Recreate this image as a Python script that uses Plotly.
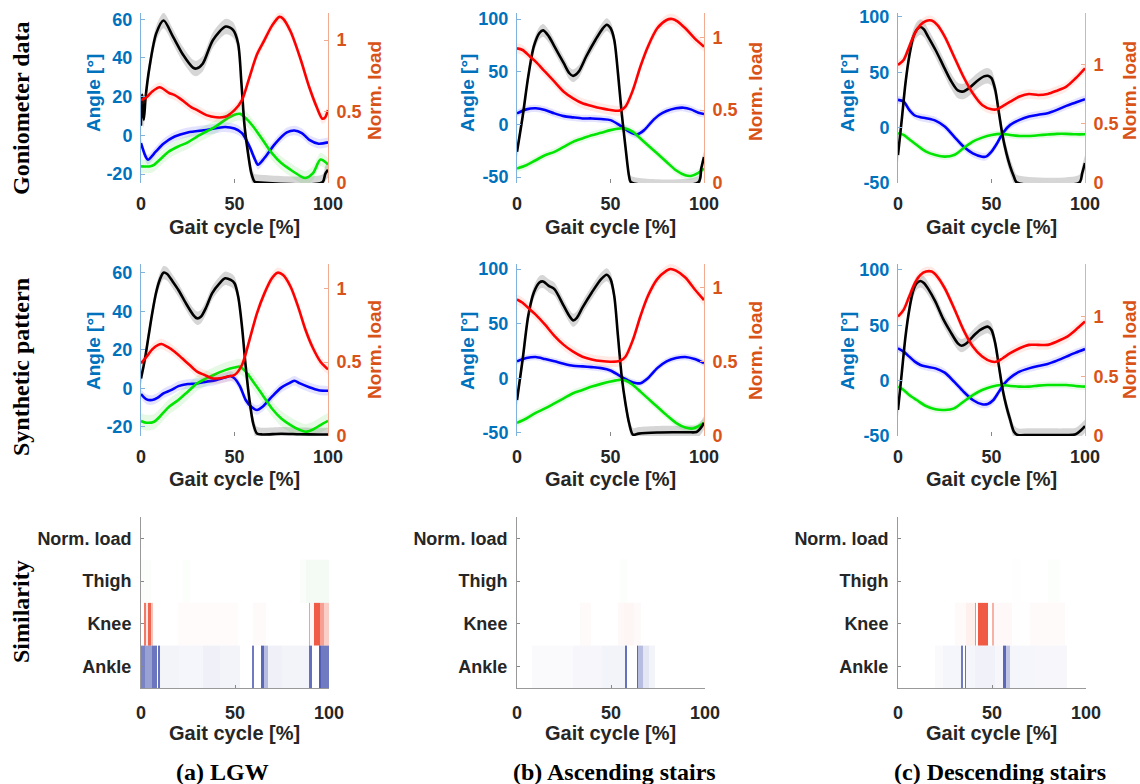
import plotly.graph_objects as go

# ---------------- data ----------------
gait_ticks = [0, 50, 100]

# Goniometer data – LGW
gon_lgw_knee = [(0,5),(0.6,21),(1.5,8),(2.5,20),(4.6,35.6),(8.2,52.8),(12.1,59.3),(17.1,51),(22.5,41.6),(27.8,35),(29.6,34.5),(33,37),(38.5,49.3),(45.3,56.2),(49.2,54.5),(51.9,47.6),(53.7,27),(55.4,4.6),(57.2,-9),(59,-19.5),(60.8,-24),(62,-24.2),(97,-24.2),(98.5,-20),(100,-17.8)]
gon_lgw_ankle = [(0,-4),(2.5,-11),(3.7,-12.6),(8,-8.3),(12,-4.3),(18,-0.6),(25,1.5),(35,2.8),(45,4.3),(50,3.5),(54,1.2),(58,-5.7),(61,-12.6),(62.5,-15.2),(66,-11.7),(72,-4),(78,1.5),(82,2.5),(86,1.2),(90,-2.3),(95,-4.3),(100,-3.6)]
gon_lgw_thigh = [(0,-16),(5,-16),(7,-15.2),(10,-12.6),(15,-8.3),(20,-5.7),(25,-3.6),(30,-0.6),(35,2),(40,4.6),(45,8),(50,10.6),(53,11.1),(56,8.9),(60,4.6),(65,-2.3),(70,-9.2),(75,-14.3),(80,-17.8),(85,-20.9),(88,-22),(92,-19.5),(96,-12.5),(100,-15)]
gon_lgw_load = [(0,0.58),(3,0.6),(6,0.64),(10,0.67),(15,0.63),(18,0.615),(22,0.58),(27,0.53),(30,0.51),(35,0.475),(40,0.46),(45,0.464),(50,0.51),(54,0.58),(58,0.74),(62,0.9),(66,1.0),(70,1.1),(74,1.163),(76,1.15),(80,1.06),(85,0.88),(90,0.67),(94,0.53),(97,0.45),(98.5,0.46),(100,0.51)]

# Goniometer data – ascending stairs
gon_as_knee = [(0,-26),(3,7.2),(6,45.3),(9,74),(12,86.7),(14,89.2),(17,83.5),(20,74),(25,58),(28,48.5),(30,46),(33,50),(37,64.4),(42,80.3),(46,91.4),(48,94.6),(50,91.4),(52,80.3),(54,48.5),(56,10.4),(58,-21.4),(60,-50),(61,-55),(97,-55),(98.5,-42),(100,-31)]
gon_as_ankle = [(0,10.4),(5,14.2),(10,15.2),(15,13.6),(20,10.4),(25,7.8),(30,6.6),(35,5.6),(40,5.6),(45,5),(50,4),(55,-1),(60,-7),(64,-9.6),(68,-5.5),(72,2.4),(76,8.8),(80,12.6),(85,15.2),(89,15.8),(93,14.2),(97,11),(100,9.8)]
gon_as_thigh = [(0,-42),(5,-38.9),(10,-34.1),(15,-29.3),(20,-26.2),(25,-21.4),(30,-16.6),(35,-13.4),(40,-10.3),(45,-8),(50,-5.5),(55,-3.9),(58,-3.9),(62,-7.1),(66,-13.4),(70,-19.8),(75,-27.7),(80,-35.7),(85,-43.6),(90,-48.4),(93,-49),(97,-46),(100,-42)]
gon_as_load = [(0,0.924),(3,0.913),(7,0.867),(10,0.833),(15,0.764),(20,0.696),(25,0.627),(30,0.581),(35,0.547),(40,0.529),(45,0.513),(50,0.501),(55,0.497),(58,0.524),(62,0.638),(66,0.8),(70,0.936),(75,1.062),(80,1.119),(83,1.126),(86,1.108),(90,1.062),(95,0.993),(100,0.936)]

# Goniometer data – descending stairs
gon_ds_knee = [(0,-24.7),(2,7),(4,40.2),(6,64.4),(8,81),(10,88.5),(12,91),(14,88.5),(16,82.5),(20,70.4),(24,56.8),(28,43.3),(32,33.6),(35,32.7),(38,35.7),(42,41.7),(46,46.3),(48,46.9),(50,44.8),(52,34.2),(54,13.1),(56,-8),(58,-23.2),(60,-35.2),(62,-44.3),(63.5,-49.5),(97,-49.5),(98.5,-41),(100,-32)]
gon_ds_ankle = [(0,25.1),(3,23.6),(6,16.1),(9,11),(12,9.4),(15,8.5),(20,6.4),(25,1),(30,-8),(35,-17.1),(40,-23.2),(45,-26.2),(47,-26.2),(50,-21.6),(53,-14.1),(56,-5),(60,2.5),(65,7),(70,10),(75,11.6),(80,13.1),(85,16.1),(90,19.7),(95,22.7),(100,25.7)]
gon_ds_thigh = [(0,-5),(3,-6.5),(6,-10.5),(10,-15.6),(15,-21.6),(20,-24.7),(25,-26.2),(30,-24.7),(35,-18.6),(40,-12.6),(45,-9),(50,-6.6),(55,-5.6),(60,-6.6),(65,-7.5),(70,-7.5),(75,-6.9),(80,-6.2),(85,-5.6),(90,-5.6),(95,-6),(100,-6)]
gon_ds_load = [(0,1.0),(3,1.042),(6,1.155),(9,1.268),(12,1.339),(15,1.373),(18,1.376),(21,1.339),(25,1.24),(30,1.07),(35,0.9),(40,0.76),(45,0.661),(50,0.624),(53,0.624),(56,0.652),(60,0.689),(65,0.732),(70,0.754),(75,0.746),(80,0.754),(85,0.782),(90,0.816),(95,0.887),(100,0.972)]

# Synthetic pattern – LGW
syn_lgw_knee = [(0,5.1),(2,14.6),(4,26.8),(6,38.9),(8,49.3),(10,56.2),(12,60),(14,59.3),(17,55.3),(20,51),(24,44.1),(28,38),(30,36.3),(32,37.1),(35,42.3),(38,49.3),(42,54.5),(45,57.1),(48,56.2),(50,54.5),(52,47.5),(54,32),(56,11.2),(58,-6.1),(60,-18.3),(62,-23.5),(65,-24),(75,-23.6),(85,-23.9),(95,-24),(100,-24)]
syn_lgw_ankle = [(0,-3),(3,-5.8),(6,-6.1),(9,-4.9),(12,-2.7),(16,-1),(20,1.1),(25,2.2),(30,2.5),(35,3.4),(40,4.2),(45,5.6),(48,6.3),(50,5.1),(53,0.8),(56,-6.1),(59,-9.6),(62,-11.3),(65,-9.6),(70,-4.4),(75,0.3),(79,2.5),(82,3.9),(85,2.5),(90,0.5),(95,-1),(100,-1.3)]
syn_lgw_thigh = [(0,-17),(3,-17.9),(7,-17.4),(10,-14.8),(15,-9.6),(20,-6.1),(25,-1.8),(30,2.5),(35,5.1),(40,7.4),(45,9.4),(50,10.8),(53,11.2),(56,8.6),(60,3.4),(65,-3.5),(70,-10.5),(75,-15.7),(80,-19.1),(85,-21.7),(88,-22.6),(92,-21.4),(96,-19.1),(100,-16.9)]
syn_lgw_load = [(0,0.492),(3,0.537),(6,0.587),(9,0.616),(11,0.623),(14,0.605),(18,0.571),(22,0.526),(26,0.481),(30,0.436),(34,0.413),(38,0.391),(42,0.391),(46,0.402),(50,0.413),(54,0.481),(58,0.65),(62,0.831),(66,0.966),(70,1.068),(73,1.106),(76,1.09),(80,1.011),(84,0.876),(88,0.718),(92,0.594),(96,0.503),(100,0.451)]

# Synthetic pattern – ascending stairs
syn_as_knee = [(0,-19.9),(3,17),(6,57),(9,78.5),(12,87.7),(14,88.6),(17,84.6),(20,81.6),(25,66.2),(28,57),(30,53),(32,55.4),(35,64.6),(40,78.5),(45,90.8),(48,94.8),(50,90.8),(52,75.4),(54,38.5),(56,1.6),(58,-23),(60,-41.4),(62,-51.5),(65,-50.6),(75,-49.6),(85,-49.4),(92,-49.4),(96,-49.1),(98,-46),(100,-40.8)]
syn_as_ankle = [(0,15.5),(5,18.5),(10,19.5),(15,17.6),(20,15.5),(25,13.3),(30,11.5),(35,10.9),(40,10.2),(45,9.3),(50,7.2),(55,2.2),(60,-2.4),(64,-4.5),(66,-4.5),(70,0.1),(75,9.3),(80,15.5),(85,18.5),(90,19.5),(95,17.6),(100,13.9)]
syn_as_thigh = [(0,-40.8),(5,-36.8),(10,-31.6),(15,-27.6),(20,-23),(25,-18.4),(30,-13.7),(35,-10.7),(40,-7.6),(45,-5.1),(50,-3),(55,-1.4),(58,-2.1),(62,-6.1),(66,-12.2),(70,-18.4),(75,-26.1),(80,-33.7),(85,-40.8),(90,-45.1),(94,-46),(97,-43.9),(100,-40.8)]
syn_as_load = [(0,0.92),(3,0.898),(7,0.852),(10,0.818),(15,0.75),(20,0.675),(25,0.614),(30,0.568),(35,0.534),(40,0.516),(45,0.505),(50,0.5),(55,0.505),(58,0.534),(62,0.648),(66,0.807),(70,0.943),(75,1.057),(80,1.114),(82,1.125),(85,1.114),(90,1.068),(95,0.989),(100,0.916)]

# Synthetic pattern – descending stairs
syn_ds_knee = [(0,-26.5),(2,6.6),(4,39.8),(6,63.9),(8,80.4),(10,88),(12,90.1),(14,88),(16,83.4),(20,71.4),(24,56.3),(28,44.3),(32,33.7),(34,31.6),(37,34.3),(40,39.8),(44,45.8),(48,48.8),(50,45.8),(52,33.7),(54,12.7),(56,-8.4),(58,-23.5),(60,-35.5),(62,-46.1),(64,-49.1),(70,-49.1),(80,-49.1),(90,-49.1),(95,-48.5),(98,-44.6),(100,-41)]
syn_ds_ankle = [(0,29.2),(3,26.2),(6,21.7),(9,17.2),(12,14.2),(15,12.7),(20,11.1),(25,7.2),(30,-0.9),(35,-9.9),(40,-17.5),(45,-21.4),(48,-21.1),(51,-17.5),(54,-9.9),(57,-2.4),(60,2.7),(65,8.1),(70,11.1),(75,13.3),(80,15.1),(85,18.1),(90,21.7),(95,25.3),(100,28.6)]
syn_ds_thigh = [(0,-5.4),(3,-8.4),(6,-13),(10,-17.5),(15,-22.9),(20,-25.9),(25,-26.5),(30,-25),(35,-19),(40,-13),(45,-8.4),(50,-5.4),(55,-3.9),(60,-4.8),(65,-5.4),(70,-5.4),(75,-4.5),(80,-3.9),(85,-3.9),(90,-3.9),(95,-4.8),(100,-5.4)]
syn_ds_load = [(0,1.0),(3,1.056),(6,1.168),(9,1.279),(12,1.349),(15,1.377),(18,1.377),(21,1.335),(25,1.237),(30,1.07),(35,0.888),(40,0.749),(45,0.665),(50,0.623),(53,0.623),(56,0.651),(60,0.693),(65,0.735),(70,0.763),(75,0.763),(80,0.763),(85,0.791),(90,0.827),(95,0.888),(100,0.958)]

# band half-widths: knee, ankle, thigh, load
gon_lgw_band = [4, 2.5, 3.5, 0.035]
gon_as_band = [6, 3.5, 3.5, 0.035]
gon_ds_band = [7, 3.5, 3, 0.04]
syn_lgw_band = [3.5, 2.5, 4, 0.035]
syn_as_band = [6, 3, 3.5, 0.035]
syn_ds_band = [6, 3.5, 3, 0.04]

# angle axis ranges / ticks, load axis ranges
angle_ranges = [[-24.6, 63.2], [-55.7, 105.7], [-50, 103.6], [-24.8, 64.5], [-52.8, 104.6], [-50, 105.4]]
load_ranges = [[0, 1.19], [0, 1.167], [0, 1.44], [0, 1.165], [0, 1.159], [0, 1.44]]
angle_ticks = [[-20, 0, 20, 40, 60], [-50, 0, 50, 100], [-50, 0, 50, 100],
               [-20, 0, 20, 40, 60], [-50, 0, 50, 100], [-50, 0, 50, 100]]
load_ticks = [0, 0.5, 1]

# Similarity bands: edges (gait %) and intensity per segment
sim_rows = ["Ankle", "Knee", "Thigh", "Norm. load"]
lgw_ankle_edges = [0, 2, 6, 8.3, 9.2, 9.9, 20, 33, 42, 52.5, 59, 60.2, 63.6, 65.5, 67.5, 75, 89.6, 90.7, 94.6, 96, 100]
lgw_ankle_vals = [0.65, 0.5, 0.72, 0.0, 0.75, 0.06, 0.05, 0.08, 0.06, 0.0, 0.7, 0.0, 0.8, 0.35, 0.08, 0.06, 0.75, 0.0, 0.85, 0.7]
lgw_knee_edges = [0, 1.8, 2.7, 3.9, 5.3, 6.6, 19.5, 51.5, 59.5, 66.6, 89.2, 90, 91.8, 95, 97.5, 100]
lgw_knee_vals = [0.0, 0.7, 0.12, 0.8, 0.3, 0.0, 0.02, 0.0, 0.025, 0.0, 0.5, 0.04, 0.85, 0.5, 0.25]
lgw_thigh_edges = [0, 5.3, 22.2, 25.8, 84.4, 87.9, 100]
lgw_thigh_vals = [0.025, 0.0, 0.015, 0.0, 0.025, 0.05]
as_ankle_edges = [0, 8, 30, 45, 57.5, 58.6, 63.6, 64.6, 67, 70, 73.2, 100]
as_ankle_vals = [0.0, 0.025, 0.04, 0.06, 0.75, 0.0, 0.8, 0.35, 0.13, 0.06, 0.0]
as_knee_edges = [0, 33.6, 39.6, 53.6, 57, 62, 66, 100]
as_knee_vals = [0.0, 0.025, 0.0, 0.03, 0.045, 0.025, 0.0]
as_thigh_edges = [0, 55, 58.6, 100]
as_thigh_vals = [0.0, 0.015, 0.0]
ds_ankle_edges = [0, 19.9, 24, 33.4, 34.6, 35.5, 36.4, 41, 51.5, 56, 57.7, 59.5, 72.8, 89.7, 100]
ds_ankle_vals = [0.0, 0.025, 0.05, 0.7, 0.0, 0.75, 0.05, 0.07, 0.04, 0.8, 0.3, 0.05, 0.04, 0.0]
ds_knee_edges = [0, 30.2, 36, 40.9, 41.6, 42.6, 48, 50, 51.2, 60.4, 70, 88.8, 100]
ds_knee_vals = [0.0, 0.025, 0.08, 0.6, 0.0, 0.85, 0.0, 0.4, 0.03, 0.006, 0.025, 0.0]
ds_thigh_edges = [0, 60.4, 65.4, 80, 86, 100]
ds_thigh_vals = [0.0, 0.01, 0.0, 0.015, 0.0]

row_titles = ["Goniometer data", "Synthetic pattern", "Similarity"]
captions = ["(a) LGW", "(b) Ascending stairs", "(c) Descending stairs"]

# ---------------- styling / layout constants ----------------
W, H = 1140, 784
COL_PX = [(141, 328), (517, 704), (898, 1085)]
ROW_PX = [(13, 183), (264, 436)]
HEAT_PX = (517, 688)
BLUE_AX = "#0072BD"
ORANGE_AX = "#D95319"
DARK = "#262626"
SANS = "Liberation Sans"
SERIF = "Liberation Serif"

LINE_COLORS = ["#000000", "#0000FF", "#00E600", "#FF0000"]
BAND_COLORS = ["rgba(0,0,0,0.16)", "rgba(0,0,255,0.11)", "rgba(0,200,0,0.10)", "rgba(255,90,60,0.13)"]
HEAT_COLORS = {"Ankle": "rgb(50,65,165)", "Knee": "rgb(236,62,36)", "Thigh": "rgb(40,160,40)", "Norm. load": "rgb(0,0,0)"}


def xd(p):
    return p / W


def yd(p):
    return 1 - p / H


fig = go.Figure()
layout = {}

panels = [
    (gon_lgw_knee, gon_lgw_ankle, gon_lgw_thigh, gon_lgw_load, gon_lgw_band),
    (gon_as_knee, gon_as_ankle, gon_as_thigh, gon_as_load, gon_as_band),
    (gon_ds_knee, gon_ds_ankle, gon_ds_thigh, gon_ds_load, gon_ds_band),
    (syn_lgw_knee, syn_lgw_ankle, syn_lgw_thigh, syn_lgw_load, syn_lgw_band),
    (syn_as_knee, syn_as_ankle, syn_as_thigh, syn_as_load, syn_as_band),
    (syn_ds_knee, syn_ds_ankle, syn_ds_thigh, syn_ds_load, syn_ds_band),
]

tick_font_x = dict(family=SANS, size=18, color=DARK, weight="bold")

for p, (knee, ankle, thigh, load, band) in enumerate(panels):
    r, c = divmod(p, 3)
    xi = p + 1
    yl = 2 * p + 1
    yr = 2 * p + 2
    xname, ylname, yrname = f"x{xi}", f"y{yl}", f"y{yr}"
    curves = [knee, ankle, thigh, load]
    for k, cur in enumerate(curves):
        xs = [a for a, _ in cur]
        ys = [b for _, b in cur]
        yax = yrname if k == 3 else ylname
        fig.add_trace(go.Scatter(x=xs, y=[v - band[k] for v in ys], mode="lines",
                                 line=dict(width=0, shape="spline", smoothing=0.8),
                                 xaxis=xname, yaxis=yax, showlegend=False, hoverinfo="skip"))
        fig.add_trace(go.Scatter(x=xs, y=[v + band[k] for v in ys], mode="lines",
                                 line=dict(width=0, shape="spline", smoothing=0.8),
                                 fill="tonexty", fillcolor=BAND_COLORS[k],
                                 xaxis=xname, yaxis=yax, showlegend=False, hoverinfo="skip"))
    order = [1, 2, 0, 3]
    for k in order:
        cur = curves[k]
        yax = yrname if k == 3 else ylname
        fig.add_trace(go.Scatter(x=[a for a, _ in cur], y=[b for _, b in cur], mode="lines",
                                 line=dict(color=LINE_COLORS[k], width=2.6, shape="spline", smoothing=0.8),
                                 xaxis=xname, yaxis=yax, showlegend=False))
    x0, x1 = COL_PX[c]
    t, b = ROW_PX[r]
    layout[f"xaxis{xi}"] = dict(domain=[xd(x0), xd(x1)], anchor=ylname, range=[0, 100],
                                tickvals=gait_ticks, ticktext=[str(v) for v in gait_ticks],
                                ticks="inside", ticklen=4, tickcolor="#888", automargin=False,
                                showline=False, showgrid=False, zeroline=False,
                                ticklabelstandoff=8, tickfont=tick_font_x)
    layout[f"yaxis{yl}"] = dict(domain=[yd(b), yd(t)], anchor=xname, range=angle_ranges[p],
                                tickvals=angle_ticks[p], ticktext=[str(v) for v in angle_ticks[p]],
                                ticks="inside", ticklen=4, tickcolor="#7fb2dc", automargin=False,
                                showline=True, linecolor="#7fb2dc", linewidth=1,
                                showgrid=False, zeroline=False, ticklabelstandoff=4,
                                tickfont=dict(family=SANS, size=18, color=BLUE_AX, weight="bold"))
    layout[f"yaxis{yr}"] = dict(domain=[yd(b), yd(t)], anchor=xname, overlaying=ylname, side="right",
                                range=load_ranges[p], tickvals=load_ticks, ticktext=["0", "0.5", "1"],
                                ticks="inside", ticklen=4, tickcolor="#f0ab90", automargin=False,
                                showline=True, linecolor="#f0ab90", linewidth=1,
                                showgrid=False, zeroline=False, ticklabelstandoff=4,
                                tickfont=dict(family=SANS, size=18, color=ORANGE_AX, weight="bold"))

sim_panels = [
    [(lgw_ankle_edges, lgw_ankle_vals), (lgw_knee_edges, lgw_knee_vals), (lgw_thigh_edges, lgw_thigh_vals)],
    [(as_ankle_edges, as_ankle_vals), (as_knee_edges, as_knee_vals), (as_thigh_edges, as_thigh_vals)],
    [(ds_ankle_edges, ds_ankle_vals), (ds_knee_edges, ds_knee_vals), (ds_thigh_edges, ds_thigh_vals)],
]

for c, rows in enumerate(sim_panels):
    xi = 7 + c
    yi = 13 + c
    xname, yname = f"x{xi}", f"y{yi}"
    for ri, (edges, vals) in enumerate(rows):
        col = HEAT_COLORS[sim_rows[ri]]
        fig.add_trace(go.Heatmap(x=edges, y=[ri - 0.5, ri + 0.5], z=[vals],
                                 colorscale=[[0, "rgb(255,255,255)"], [1, col]], zmin=0, zmax=1,
                                 showscale=False, xaxis=xname, yaxis=yname, hoverinfo="skip"))
    x0, x1 = COL_PX[c]
    t, b = HEAT_PX
    layout[f"xaxis{xi}"] = dict(domain=[xd(x0), xd(x1 + 1)], anchor=yname, range=[0, 100],
                                tickvals=gait_ticks, ticktext=[str(v) for v in gait_ticks],
                                ticks="inside", ticklen=3, tickcolor="#888", automargin=False,
                                showline=True, linecolor="#999", linewidth=1,
                                showgrid=False, zeroline=False, ticklabelstandoff=8,
                                tickfont=tick_font_x)
    layout[f"yaxis{yi}"] = dict(domain=[yd(b), yd(t)], anchor=xname, range=[-0.5, 3.5],
                                tickvals=[0, 1, 2, 3], ticktext=sim_rows,
                                ticks="inside", ticklen=3, tickcolor="#888", automargin=False,
                                showline=True, linecolor="#999", linewidth=1,
                                showgrid=False, zeroline=False, ticklabelstandoff=5,
                                tickfont=dict(family=SANS, size=18, color=DARK, weight="bold"))

ann = []
# Gait cycle titles
for c in range(3):
    cx = (COL_PX[c][0] + COL_PX[c][1]) / 2
    for yy in (227.5, 479, 732.5):
        ann.append(dict(x=xd(cx), y=yd(yy), xref="paper", yref="paper", text="Gait cycle [%]",
                        showarrow=False, font=dict(family=SANS, size=20, color=DARK, weight="bold"),
                        xanchor="center", yanchor="middle"))
# Angle / Norm. load titles
angle_x = [93, 467, 847]
load_x = [374, 755, 1129]
angle_cy = [93, 351]
load_cy = [91, 350]
for r in range(2):
    for c in range(3):
        ann.append(dict(x=xd(angle_x[c]), y=yd(angle_cy[r]), xref="paper", yref="paper", text="Angle [°]",
                        textangle=-90, showarrow=False,
                        font=dict(family=SANS, size=19, color=BLUE_AX, weight="bold"),
                        xanchor="center", yanchor="middle"))
        ann.append(dict(x=xd(load_x[c]), y=yd(load_cy[r]), xref="paper", yref="paper", text="Norm. load",
                        textangle=-90, showarrow=False,
                        font=dict(family=SANS, size=19, color=ORANGE_AX, weight="bold"),
                        xanchor="center", yanchor="middle"))
# Row titles
for txt, cy in zip(row_titles, [108, 367, 612]):
    ann.append(dict(x=xd(21), y=yd(cy), xref="paper", yref="paper", text=txt, textangle=-90,
                    showarrow=False, font=dict(family=SERIF, size=24, color="#000", weight="bold"),
                    xanchor="center", yanchor="middle"))
# Captions
for txt, cx in zip(captions, [222, 614, 1000]):
    ann.append(dict(x=xd(cx), y=yd(772), xref="paper", yref="paper", text=txt, showarrow=False,
                    font=dict(family=SERIF, size=24, color="#000", weight="bold"),
                    xanchor="center", yanchor="middle"))

fig.update_layout(width=W, height=H, margin=dict(l=0, r=0, t=0, b=0, autoexpand=False),
                  paper_bgcolor="white", plot_bgcolor="rgba(0,0,0,0)",
                  showlegend=False, annotations=ann, **layout)

fig.write_html("out.html")
